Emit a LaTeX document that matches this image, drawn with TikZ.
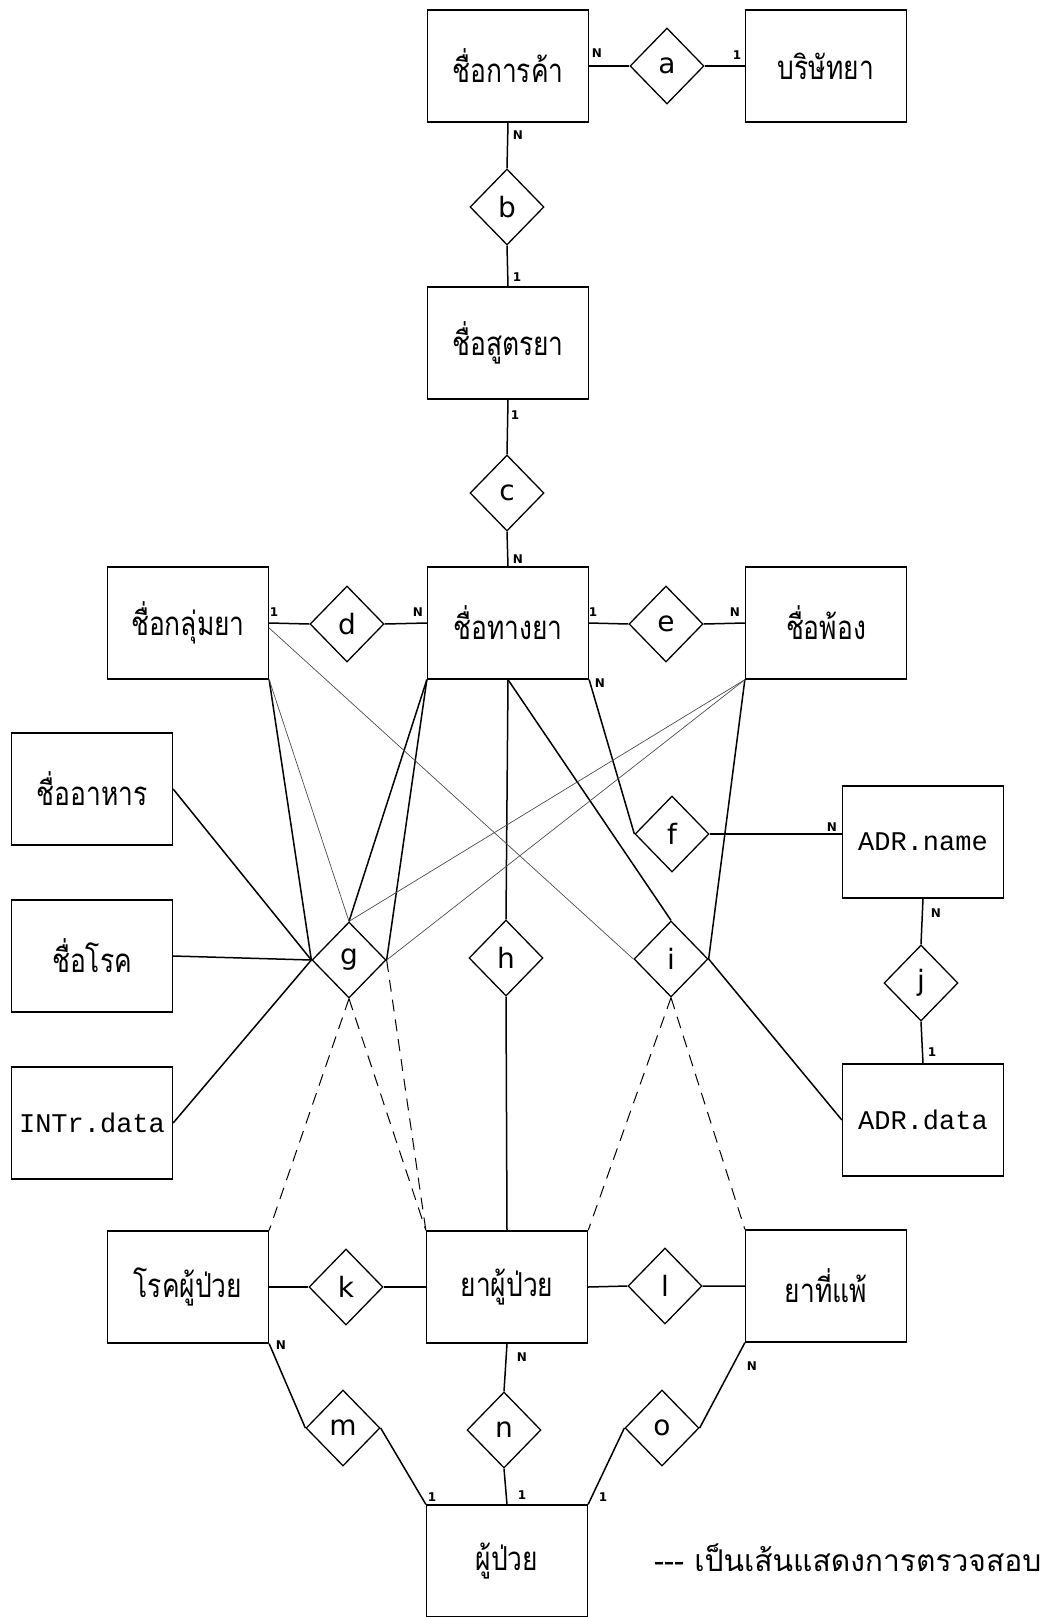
\documentclass[tikz,border=0pt]{standalone}
\usepackage{fontspec}
\usetikzlibrary{shapes.geometric}
\newfontfamily\thaifont[Script=Thai, FakeStretch=0.8]{Loma}
\newfontfamily\legendfont[Script=Thai]{Loma}
\newfontfamily\monofont{Liberation Mono}
\newfontfamily\relfont{DejaVu Sans}
\newfontfamily\cardfont{DejaVu Sans}
\tikzset{
  ent/.style={draw, line width=1.3pt, minimum width=161pt, minimum height=112pt, inner sep=0pt},
  thaitxt/.style={font=\thaifont\fontsize{33}{38}\selectfont},
  legtxt/.style={font=\legendfont\fontsize{30}{36}\selectfont},
  monotxt/.style={font=\monofont\fontsize{27}{32}\selectfont},
  rel/.style={draw, diamond, line width=1.3pt, minimum width=74pt, minimum height=76pt, inner sep=0pt, font=\relfont\fontsize{28}{32}\selectfont},
  card/.style={inner sep=0pt, font=\cardfont\bfseries\fontsize{12}{14}\selectfont},
  conn/.style={line width=1.5pt},
  thin/.style={line width=0.7pt, black!70},
  chk/.style={line width=1pt, dash pattern=on 12pt off 8pt},
}
\begin{document}
\begin{tikzpicture}[x=1pt, y=-1pt]
\useasboundingbox (0,0) rectangle (1049,1617);
% entities
\node[ent, thaitxt] (tn) at (508,66) {ชื่อการค้า};
\node[ent, thaitxt] (co) at (826,66) {บริษัทยา};
\node[ent, thaitxt] (fn) at (508,343) {ชื่อสูตรยา};
\node[ent, thaitxt] (gr) at (188,623) {ชื่อกลุ่มยา};
\node[ent, thaitxt] (gn) at (508,623) {ชื่อทางยา};
\node[ent, thaitxt] (sy) at (826,623) {ชื่อพ้อง};
\node[ent, thaitxt] (food) at (92,789) {ชื่ออาหาร};
\node[ent, thaitxt] (dis) at (92,956) {ชื่อโรค};
\node[ent, monotxt] (intr) at (92,1123) {INTr.data};
\node[ent, monotxt] (adrn) at (923,842) {ADR.name};
\node[ent, monotxt] (adrd) at (923,1120) {ADR.data};
\node[ent, thaitxt] (pd) at (188,1287) {โรคผู้ป่วย};
\node[ent, thaitxt] (pm) at (507,1287) {ยาผู้ป่วย};
\node[ent, thaitxt] (al) at (826,1286) {ยาที่แพ้};
\node[ent, thaitxt] (pt) at (507,1561) {ผู้ป่วย};
% relationships
\node[rel] (a) at (667,66) {a};
\node[rel] (b) at (507,207) {b};
\node[rel] (c) at (507,493) {c};
\node[rel] (d) at (347,624) {d};
\node[rel] (e) at (666,624) {e};
\node[rel] (f) at (672,834) {f};
\node[rel] (g) at (349,960) {g};
\node[rel] (h) at (506,958) {h};
\node[rel] (i) at (671,959) {i};
\node[rel] (j) at (921,983) {j};
\node[rel] (k) at (346,1287) {k};
\node[rel] (l) at (665,1286) {l};
\node[rel] (m) at (343,1428) {m};
\node[rel] (n) at (504,1430) {n};
\node[rel] (o) at (662,1428) {o};
% solid connectors
\draw[conn] (tn.east) -- (a.west) (a.east) -- (co.west);
\draw[conn] (tn.south) -- (b.north) (b.south) -- (fn.north);
\draw[conn] (fn.south) -- (c.north) (c.south) -- (gn.north);
\draw[conn] (gr.east) -- (d.west) (d.east) -- (gn.west);
\draw[conn] (gn.east) -- (e.west) (e.east) -- (sy.west);
\draw[conn] (gn.south east) -- (f.west);
\draw[conn] (f.east) -- (f.east -| adrn.west);
\draw[conn] (adrn.south) -- (j.north) (j.south) -- (adrd.north);
\draw[conn] (food.east) -- (g.west);
\draw[conn] (dis.east) -- (g.west);
\draw[conn] (intr.east) -- (g.west);
\draw[conn] (gr.south east) -- (g.west);
\draw[conn] (gn.south west) -- (g.north);
\draw[conn] (gn.south west) -- (g.east);
\draw[conn] (gn.south) -- (h.north) (h.south) -- (pm.north);
\draw[conn] (gn.south) -- (i.north);
\draw[conn] (i.east) -- (adrd.west);
\draw[conn] (sy.south west) -- (i.east);
\draw[conn] (pd.east) -- (k.west) (k.east) -- (pm.west);
\draw[conn] (pm.east) -- (l.west) (l.east) -- (al.west);
\draw[conn] (pd.south east) -- (m.west) (m.east) -- (pt.north west);
\draw[conn] (pm.south) -- (n.north) (n.south) -- (pt.north);
\draw[conn] (al.south west) -- (o.east) (o.west) -- (pt.north east);
% thin connectors
\draw[thin] (gr.south east) -- (g.north);
\draw[thin] ([yshift=-5pt]gr.east) -- (i.west);
\draw[thin] (sy.south west) -- (g.north);
\draw[thin] (sy.south west) -- (g.east);
% check (dashed) connectors
\draw[chk] (g.south) -- (pd.north east);
\draw[chk] (g.south) -- (pm.north west);
\draw[chk] (g.east) -- (pm.north west);
\draw[chk] (i.south) -- (pm.north east);
\draw[chk] (i.south) -- (al.north west);
% cardinalities
\node[card] (ca1) at (597,53) {N};
\node[card] (ca2) at (737,55) {1};
\node[card] (cb1) at (518,135) {N};
\node[card] (cb2) at (517,277) {1};
\node[card] (cc1) at (515,415) {1};
\node[card] (cc2) at (518,559) {N};
\node[card] (cd1) at (274,612) {1};
\node[card] (cd2) at (418,612) {N};
\node[card] (ce1) at (593,612) {1};
\node[card] (ce2) at (735,612) {N};
\node[card] (cf1) at (600,683) {N};
\node[card] (cf2) at (832,827) {N};
\node[card] (cj1) at (936,913) {N};
\node[card] (cj2) at (932,1052) {1};
\node[card] (cm1) at (281,1345) {N};
\node[card] (cm2) at (432,1497) {1};
\node[card] (cn1) at (522,1357) {N};
\node[card] (cn2) at (522,1495) {1};
\node[card] (co1) at (752,1366) {N};
\node[card] (co2) at (603,1497) {1};
% legend
\node[anchor=west, inner sep=0pt, legtxt] (legend) at (654,1558) {-{}-{}- เป็นเส้นแสดงการตรวจสอบ};
\end{tikzpicture}
\end{document}
